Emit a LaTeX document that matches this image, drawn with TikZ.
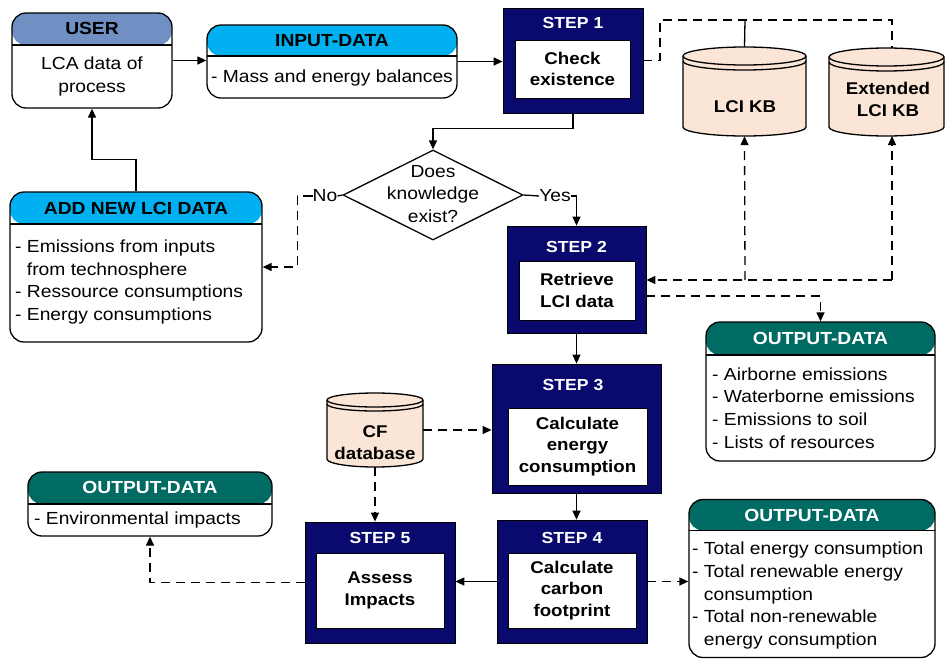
\documentclass[tikz,border=0pt]{standalone}
\usepackage{fontspec}
\setmainfont{Liberation Sans}[FakeStretch=1.1]
\usetikzlibrary{arrows.meta,shapes.geometric}
\definecolor{navy}{HTML}{0A0A6E}
\definecolor{userc}{HTML}{7090C4}
\definecolor{cyanc}{HTML}{00B0F0}
\definecolor{tealc}{HTML}{006B62}
\definecolor{cylc}{HTML}{FBE5D6}
\tikzset{
 arr/.style={-{Triangle[length=9pt,width=8pt]}},
 dsh/.style={dash pattern=on 9pt off 6pt},
 ln/.style={line width=1.3pt},
 box/.style={draw, line width=1.3pt, rounded corners=14pt, fill=white, inner sep=0pt},
 hdr/.style 2 args={path picture={
   \fill[#1] (path picture bounding box.north west) rectangle ([yshift=-#2pt]path picture bounding box.north east);
   \draw[line width=1.3pt] ([yshift=-#2pt]path picture bounding box.north west) -- ([yshift=-#2pt]path picture bounding box.north east);}},
 htxt/.style={font=\fontsize{17.5}{20}\selectfont\bfseries, inner sep=0pt},
 btxt/.style={font=\fontsize{17.5}{22.8}\selectfont, inner sep=0pt, align=left},
 stepo/.style={draw, line width=0.8pt, fill=navy, inner sep=0pt},
 stepi/.style={draw, line width=0.8pt, fill=white, inner sep=0pt, align=center, font=\fontsize{17}{21.5}\selectfont\bfseries},
 stepl/.style={text=white, font=\fontsize{16}{18}\selectfont\bfseries, inner sep=0pt},
 cyl/.style={draw, line width=1.3pt, fill=cylc},
 ctxt/.style={font=\fontsize{17}{22}\selectfont\bfseries, inner sep=0pt, align=center},
}
\begin{document}
\begin{tikzpicture}[x=1pt,y=-1pt]
\useasboundingbox (0,0) rectangle (945,659);

% ---------- data boxes ----------
\node[box, hdr={userc}{32}, minimum width=160pt, minimum height=95pt] (user) at (92,60.5) {};
\node[htxt] (usert) at (92,28) {USER};
\node[btxt, align=center] (userb) at (92,76.5) {LCA data of\\process};

\node[box, hdr={cyanc}{31}, minimum width=250pt, minimum height=73pt] (input) at (332,61.5) {};
\node[htxt] (inputt) at (332,40.5) {INPUT-DATA};
\node[btxt] (inputb) at (332,78) {- Mass and energy balances};

\node[box, hdr={cyanc}{32}, minimum width=252pt, minimum height=150pt] (addnew) at (136,267) {};
\node[htxt] (addnewt) at (136,208) {ADD NEW LCI DATA};
\node[btxt, anchor=west] (addnewb) at (15,282) {- Emissions from inputs\\\phantom{-}\ from technosphere\\- Ressource consumptions\\- Energy consumptions};

\node[box, hdr={tealc}{33}, minimum width=229pt, minimum height=139pt] (out1) at (820.5,391.5) {};
\node[htxt, text=white] (out1t) at (820.5,338.5) {OUTPUT-DATA};
\node[btxt, anchor=west] (out1b) at (712,408) {- Airborne emissions\\- Waterborne emissions\\- Emissions to soil\\- Lists of resources};

\node[box, hdr={tealc}{32}, minimum width=244pt, minimum height=64pt] (out2) at (150,504) {};
\node[htxt, text=white] (out2t) at (150,487.5) {OUTPUT-DATA};
\node[btxt, anchor=west] (out2b) at (34,519.5) {- Environmental impacts};

\node[box, hdr={tealc}{31}, minimum width=246pt, minimum height=158pt] (out3) at (812,578.5) {};
\node[htxt, text=white] (out3t) at (812,515) {OUTPUT-DATA};
\node[btxt, anchor=west] (out3b) at (692,595.5) {- Total energy consumption\\- Total renewable energy\\\phantom{-}\ consumption\\- Total non-renewable\\\phantom{-}\ energy consumption};

% ---------- steps ----------
\node[stepo, minimum width=140pt, minimum height=105pt] (s1) at (573,60.5) {};
\node[stepl] (s1l) at (573,23) {STEP 1};
\node[stepi, minimum width=115pt, minimum height=58pt] (s1i) at (572.5,69) {Check\\existence};

\node[stepo, minimum width=139pt, minimum height=107pt] (s2) at (576.5,279.5) {};
\node[stepl] (s2l) at (576.5,247) {STEP 2};
\node[stepi, minimum width=116pt, minimum height=59pt] (s2i) at (577,290.5) {Retrieve\\LCI data};

\node[stepo, minimum width=169pt, minimum height=129pt] (s3) at (576.5,428.5) {};
\node[stepl] (s3l) at (573,385) {STEP 3};
\node[stepi, minimum width=139pt, minimum height=77pt] (s3i) at (577.5,446.5) {Calculate\\energy\\consumption};

\node[stepo, minimum width=150pt, minimum height=123pt] (s4) at (572,581.5) {};
\node[stepl] (s4l) at (572,538) {STEP 4};
\node[stepi, minimum width=128pt, minimum height=75pt] (s4i) at (572,590.5) {Calculate\\carbon\\footprint};

\node[stepo, minimum width=150pt, minimum height=121pt] (s5) at (380,582.5) {};
\node[stepl] (s5l) at (380,538) {STEP 5};
\node[stepi, minimum width=128pt, minimum height=75pt] (s5i) at (380,590.5) {Assess\\Impacts};

% ---------- cylinders ----------
\path[cyl] (683,56) -- (683,127) arc[start angle=180,end angle=360,x radius=61.5pt,y radius=9pt] -- (806,56) arc[start angle=0,end angle=180,x radius=61.5pt,y radius=9pt] -- cycle;
\draw[ln] (683,56) arc[start angle=180,end angle=360,x radius=61.5pt,y radius=9pt];
\draw[ln] (683,61) arc[start angle=180,end angle=360,x radius=61.5pt,y radius=9pt];
\node[inner sep=0pt, minimum width=123pt, minimum height=89pt] (lcikb) at (744.5,91.5) {};
\node[ctxt] (lcikbt) at (745,107) {LCI KB};

\path[cyl] (829,57) -- (829,127) arc[start angle=180,end angle=360,x radius=57.5pt,y radius=9pt] -- (944,57) arc[start angle=0,end angle=180,x radius=57.5pt,y radius=9pt] -- cycle;
\draw[ln] (829,57) arc[start angle=180,end angle=360,x radius=57.5pt,y radius=9pt];
\draw[ln] (829,62) arc[start angle=180,end angle=360,x radius=57.5pt,y radius=9pt];
\node[ctxt] (extkbt) at (888,99) {Extended\\LCI KB};
\coordinate (exttop) at (892,48);
\coordinate (extbot) at (892,136);

\path[cyl] (327,400) -- (327,459) arc[start angle=180,end angle=360,x radius=48pt,y radius=8pt] -- (423,400) arc[start angle=0,end angle=180,x radius=48pt,y radius=7pt] -- cycle;
\draw[ln] (327,400) arc[start angle=180,end angle=360,x radius=48pt,y radius=7pt];
\draw[ln] (327,404) arc[start angle=180,end angle=360,x radius=48pt,y radius=7pt];
\node[inner sep=0pt, minimum width=96pt, minimum height=74pt] (cf) at (375,430) {};
\node[ctxt] (cft) at (375,443) {CF\\database};

% ---------- decision ----------
\node[draw, diamond, ln, fill=white, minimum width=180pt, minimum height=90pt, inner sep=0pt] (dec) at (433,195) {};
\node[font=\fontsize{17.5}{22.5}\selectfont, align=center, inner sep=0pt] (dect) at (433,194) {Does\\knowledge\\exist?};
\node[btxt] (no) at (325,196) {No};
\node[btxt] (yes) at (555,196) {Yes};

% ---------- connectors ----------
\draw[ln,arr] (user.east) -- (user.east -| input.west);
\draw[ln,arr] (input.east) -- (input.east -| s1.west);

\coordinate (b1) at (660,20);
\coordinate (b2) at (892,20);
\coordinate (b3) at (745,20);
\draw[ln,dsh] (s1.east) -| (b1) -- (b2) -- (exttop);
\draw[ln] (b3) -- (lcikb.north);

\draw[ln,arr] (s1.south) -- ++(0,15) -| (dec.north);
\draw[ln] (dec.west) -- (no.east);
\draw[ln,dsh,arr] (no.west) -- ++(-15,0) |- (addnew.east);
\draw[ln] (dec.east) -- (yes.west);
\draw[ln,arr] (yes.east) -| (s2.north);

\coordinate (lb) at (745,280);
\coordinate (eb) at (892,280);
\draw[ln,dsh,arr] (eb) -- (eb -| s2.east);
\draw[ln,dsh,arr] (eb) -- (extbot);
\draw[ln,dsh,arr] (lb) -- (lcikb.south);
\draw[ln,dsh,arr] ([yshift=-16.5pt]s2.east) -| (out1.north);

\draw[ln,arr] (s2.south) -- (s2.south |- s3.north);
\draw[ln,arr] (s3.south) -- (s3.south |- s4.north);
\draw[ln,dsh,arr] (s4.east) -- (s4.east -| out3.west);
\draw[ln,arr] (s4.west) -- (s4.west -| s5.east);
\draw[ln,dsh,arr] (s5.west) -| (out2.south);
\draw[ln,dsh,arr] (cf.east) -- (cf.east -| s3.west);
\draw[ln,dsh,arr] (cf.south) -- (cf.south |- s5.north);

\draw[ln,arr] (addnew.north) -- ++(0,-32) -| (user.south);
\end{tikzpicture}
\end{document}
